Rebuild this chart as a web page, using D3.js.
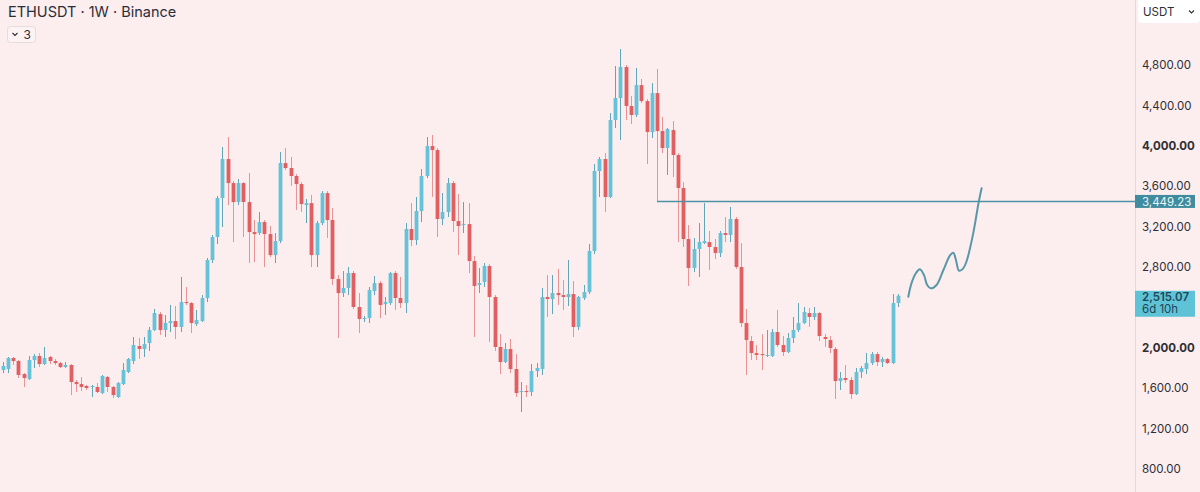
<!DOCTYPE html>
<html>
<head>
<meta charset="utf-8">
<script src="https://cdn.jsdelivr.net/npm/d3@7.9.0/dist/d3.min.js"></script>
<style>
  html, body { margin: 0; padding: 0; background: #fcedee; }
  #chart { width: 1200px; height: 492px; }
  text { font-family: Inter, "Noto Sans", sans-serif; }
</style>
</head>
<body>
<div id="chart"></div>
<script>
// weekly ETHUSDT candles
const opens = [
  1780,1790,1899,1869,1740,1691,1879,1919,1839,1909,1869,1849,1810,1830,1661,1641,1622,1612,1612,1552,
  1711,1612,1513,1641,1760,1869,2018,1988,2047,2176,2334,2176,2245,2265,2206,2453,2443,2235,2265,2493,
  2869,3097,3483,3869,3631,3443,3631,3443,3146,3136,3245,3126,2918,3057,3829,3780,3701,3621,3413,3433,
  2918,3235,3532,3265,2681,2542,2592,2740,2404,2285,2295,2562,2641,2433,2443,2740,2493,2443,3176,3067,
  3354,3701,3998,3958,3275,3344,3631,3255,3215,3225,2859,2622,2651,2810,2503,2008,1859,1988,1790,1562,
  1572,1562,1770,1790,2503,2483,2542,2522,2503,2532,2206,2493,2552,2958,3750,3869,3493,4255,4473,4780,
  4394,4305,4601,4443,4136,4522,4146,3978,4156,3909,3582,3077,2790,2978,3037,3047,2998,2938,3136,3117,
  3275,2800,2245,2067,1948,1938,1919,1919,2156,2028,1958,2097,2176,2245,2344,2305,2344,2107,2077,1988,
  1671,1701,1681,1542,1760,1790,1849,1938,1859,1889,1849,2443
];
const highs = [
  1859,1909,1909,1879,1750,1919,1938,1948,2008,1919,1889,1859,1859,1839,1681,1711,1632,1632,1651,1731,
  1721,1622,1661,1849,1899,2107,2097,2107,2206,2384,2354,2325,2424,2414,2701,2602,2453,2374,2522,2889,
  3117,3503,3988,4087,3651,3671,3641,3730,3265,3344,3265,3206,3136,3938,3978,3889,3720,3641,3473,3513,
  3255,3552,3552,3384,2720,2760,2800,2760,2542,2315,2602,2711,2661,2503,2750,2760,2701,3235,3433,3493,
  3770,4087,4107,3978,3532,3681,3651,3522,3443,3433,2909,2790,2839,2829,2522,2136,2047,2087,1938,1661,
  1632,1839,1849,2592,2720,2720,2780,2671,2869,2661,2513,2622,3027,3819,3889,3928,4324,4790,4958,4800,
  4493,4770,4661,4463,4621,4760,4285,4176,4245,3928,3641,3215,3087,3235,3433,3156,3077,3156,3295,3394,
  3295,3037,2384,2117,2028,2136,2176,2186,2374,2117,2146,2305,2443,2404,2394,2404,2354,2136,2117,2008,
  1760,1830,1711,1800,1820,1948,1958,1958,1909,1899,2532,2532
];
const lows = [
  1750,1750,1830,1701,1612,1681,1800,1810,1830,1839,1830,1800,1800,1532,1562,1572,1582,1513,1552,1542,
  1562,1503,1503,1632,1750,1839,1889,1909,1968,2166,2127,2107,2156,2087,2156,2424,2146,2216,2255,2453,
  2839,3027,3196,3413,3047,3413,3097,2839,2849,3117,2800,2899,2839,3037,3760,3602,3364,3344,3235,2800,
  2800,3215,3087,2622,2097,2503,2522,2384,2146,2255,2245,2522,2295,2325,2424,2374,2394,2344,3008,3017,
  3245,3681,3493,3097,3215,3295,3146,2918,3136,2740,2107,2542,2602,2057,1968,1740,1849,1750,1513,1364,
  1513,1523,1711,1731,2305,2334,2424,2374,2414,2107,2176,2473,2532,2928,3493,3344,3483,4176,4057,4255,
  4215,4285,4423,3819,4077,3443,3928,3711,3691,3047,2998,2612,2750,2701,3027,2770,2879,2899,3047,3047,
  2780,2206,1731,1879,1879,1780,1909,1909,2008,1919,1948,2047,2156,2235,2206,2275,2067,2008,1948,1493,
  1582,1651,1493,1532,1701,1740,1830,1820,1810,1839,1839,2404
];
const closes = [
  1820,1899,1869,1731,1701,1879,1919,1839,1899,1869,1849,1810,1830,1661,1641,1612,1602,1622,1562,1721,
  1612,1532,1651,1780,1889,2028,1988,2037,2176,2344,2176,2245,2265,2206,2453,2443,2245,2275,2493,2869,
  3097,3483,3869,3631,3443,3631,3443,3146,3126,3245,3126,2918,3057,3829,3780,3701,3621,3423,3433,2918,
  3235,3532,3265,2681,2542,2592,2740,2404,2285,2295,2572,2641,2424,2453,2740,2493,2443,3176,3067,3354,
  3701,3998,3958,3275,3344,3631,3255,3206,3225,2859,2612,2641,2810,2503,2008,1859,1988,1790,1552,1572,
  1562,1770,1800,2503,2483,2542,2522,2503,2532,2206,2503,2552,2958,3750,3869,3493,4255,4473,4780,4394,
  4305,4601,4443,4136,4522,4146,3978,4166,3909,3582,3077,2790,2978,3047,3057,2998,2938,3136,3117,3275,
  2800,2245,2077,1948,1929,1929,1929,2156,2028,1958,2097,2176,2245,2354,2305,2344,2117,2087,1998,1671,
  1701,1681,1542,1760,1800,1849,1938,1859,1889,1849,2443,2515.07
];

const priceTicks = [800, 1200, 1600, 2000, 2800, 3200, 3600, 4000, 4400, 4800];
const boldTicks = [2000, 4000];

// horizontal level drawn from the wick of week 125
const levelPrice = 3449.23;
const levelStart = 125;

// hand-drawn projection path (week index, price)
const pathWeeks  = [173.0,173.6,174.5,175.2,176.0,176.6,177.3,178.4,179.7,181.0,181.6,182.1,182.7,183.5,184.1,185.4,186.4,187.0];
const pathPrices = [2506,2638,2743,2777,2720,2622,2589,2622,2770,2918,2941,2869,2763,2787,2852,3133,3430,3579];

const title = 'ETHUSDT · 1W · Binance';
const countdown = '6d 10h';

const width = 1200;
const height = 492;
const plotRight = 1135;

const upColor = '#66c2d8';
const downColor = '#e25f61';
const upWick = '#5fa6b8';
const downWick = '#e99394';

const fmt = d3.format(',.2f');

const candles = opens.map((o, i) => ({
  i, open: o, high: highs[i], low: lows[i], close: closes[i],
}));

const svg = d3.select('#chart')
  .append('svg')
  .attr('width', width)
  .attr('height', height);

svg.append('rect')
  .attr('width', width).attr('height', height)
  .attr('fill', '#fcedee');

const xScale = d3.scaleLinear()
  .domain([-0.5, 216.3])
  .range([0, plotRight]);

const yScale = d3.scaleLinear()
  .domain([800, 4800])
  .range([469, 65]);

const bodyW = 3.8;

// candles
const g = svg.append('g').attr('class', 'candles');

g.selectAll('line.wick')
  .data(candles)
  .join('line')
  .attr('class', 'wick')
  .attr('x1', d => Math.round(xScale(d.i)) + 0.5)
  .attr('x2', d => Math.round(xScale(d.i)) + 0.5)
  .attr('y1', d => yScale(d.high))
  .attr('y2', d => yScale(d.low))
  .attr('stroke', d => d.close >= d.open ? upWick : downWick)
  .attr('stroke-width', 1);

g.selectAll('rect.body')
  .data(candles)
  .join('rect')
  .attr('class', 'body')
  .attr('x', d => Math.round(xScale(d.i)) + 0.5 - bodyW / 2)
  .attr('width', bodyW)
  .attr('y', d => yScale(Math.max(d.open, d.close)))
  .attr('height', d => Math.max(1, Math.abs(yScale(d.open) - yScale(d.close))))
  .attr('fill', d => d.close >= d.open ? upColor : downColor);

// horizontal level
svg.append('line')
  .attr('x1', xScale(levelStart))
  .attr('x2', plotRight)
  .attr('y1', yScale(levelPrice))
  .attr('y2', yScale(levelPrice))
  .attr('stroke', '#4b93a5')
  .attr('stroke-width', 1.4);

// projection brush
const line = d3.line()
  .x(d => xScale(d[0]))
  .y(d => yScale(d[1]))
  .curve(d3.curveCatmullRom.alpha(0.5));

svg.append('path')
  .datum(pathWeeks.map((w, k) => [w, pathPrices[k]]))
  .attr('d', line)
  .attr('fill', 'none')
  .attr('stroke', '#5897a7')
  .attr('stroke-width', 2)
  .attr('stroke-linecap', 'round');

// price axis
svg.append('line')
  .attr('x1', plotRight + 0.5).attr('x2', plotRight + 0.5)
  .attr('y1', 0).attr('y2', height)
  .attr('stroke', '#e4d9da');

const yAxis = svg.append('g')
  .attr('class', 'y-axis')
  .attr('transform', `translate(${plotRight}, 0)`)
  .call(d3.axisRight(yScale)
    .tickValues(priceTicks)
    .tickSize(0)
    .tickPadding(7)
    .tickFormat(fmt));

yAxis.select('.domain').remove();
yAxis.selectAll('text')
  .attr('fill', '#2e2f36')
  .attr('font-size', 11.5)
  .attr('font-weight', d => boldTicks.includes(d) ? 700 : 400);

// level label
const lvl = svg.append('g')
  .attr('transform', `translate(${plotRight}, ${yScale(levelPrice)})`);
lvl.append('rect')
  .attr('x', 0).attr('y', -6.5).attr('width', 60).attr('height', 13)
  .attr('fill', '#3f8c9e');
lvl.append('text')
  .attr('x', 7).attr('y', 4.3)
  .attr('font-size', 11.5)
  .attr('fill', '#eaf6f9')
  .text(fmt(levelPrice));

// last price label
const last = closes[closes.length - 1];
const lp = svg.append('g')
  .attr('transform', `translate(${plotRight}, ${yScale(last)})`);
lp.append('rect')
  .attr('x', 0).attr('y', -5).attr('width', 60).attr('height', 26)
  .attr('fill', '#5fc3d8');
lp.append('text')
  .attr('x', 7).attr('y', 5)
  .attr('font-size', 11.5)
  .attr('font-weight', 600)
  .attr('fill', '#1d4757')
  .text(fmt(last));
lp.append('text')
  .attr('x', 7).attr('y', 17.5)
  .attr('font-size', 11.5)
  .attr('fill', '#1d4757')
  .text(countdown);

// currency selector
const cur = svg.append('g').attr('transform', 'translate(1138, 0)');
cur.append('rect')
  .attr('x', 0).attr('y', -4).attr('width', 62).attr('height', 27).attr('rx', 4)
  .attr('fill', '#ffffff');
cur.append('text')
  .attr('x', 5).attr('y', 16)
  .attr('font-size', 11.5)
  .attr('fill', '#2e2f36')
  .text('USDT');
cur.append('path')
  .attr('d', 'M51,10.5 l2.5,2.5 l2.5,-2.5')
  .attr('fill', 'none')
  .attr('stroke', '#2e2f36')
  .attr('stroke-width', 1.1);

// title + indicator counter
svg.append('text')
  .attr('x', 8).attr('y', 17)
  .attr('font-size', 14.5)
  .attr('fill', '#2a2e39')
  .text(title);

const ind = svg.append('g').attr('transform', 'translate(7.5, 26.5)');
ind.append('rect')
  .attr('width', 28).attr('height', 16).attr('rx', 3)
  .attr('fill', '#fdf3f4')
  .attr('stroke', '#e7dcdd');
ind.append('path')
  .attr('d', 'M5,6.5 l2.5,2.5 l2.5,-2.5')
  .attr('fill', 'none')
  .attr('stroke', '#2a2e39')
  .attr('stroke-width', 1.1);
ind.append('text')
  .attr('x', 16).attr('y', 12.3)
  .attr('font-size', 12)
  .attr('fill', '#2a2e39')
  .text('3');
</script>
</body>
</html>
